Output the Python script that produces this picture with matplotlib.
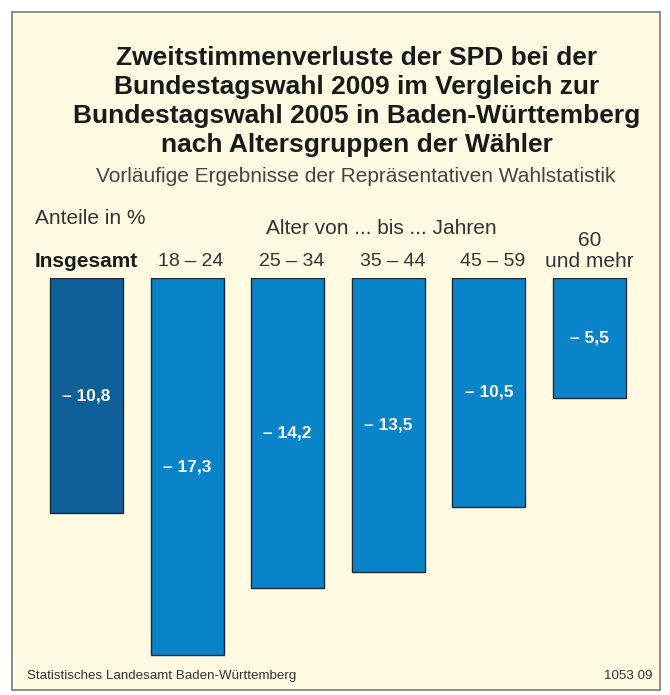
import matplotlib
matplotlib.use("Agg")
import matplotlib.pyplot as plt
from matplotlib.patches import Rectangle

categories = ["Insgesamt", "18 – 24", "25 – 34", "35 – 44", "45 – 59", "60\nund mehr"]
values = [-10.8, -17.3, -14.2, -13.5, -10.5, -5.5]
value_labels = ["– 10,8", "– 17,3", "– 14,2", "– 13,5", "– 10,5", "– 5,5"]
title_lines = ["Zweitstimmenverluste der SPD bei der",
               "Bundestagswahl 2009 im Vergleich zur",
               "Bundestagswahl 2005 in Baden-Württemberg",
               "nach Altersgruppen der Wähler"]

W, H = 670, 695
BG = "#fffbe3"
fig = plt.figure(figsize=(W / 100, H / 100), dpi=100)
fig.patch.set_facecolor("white")

def fx(px):
    return px / W

def fy(py):
    return 1 - py / H

# frame
fig.patches.append(Rectangle((fx(12), fy(690)), fx(660) - fx(12), fy(12) - fy(690),
                             transform=fig.transFigure, facecolor=BG,
                             edgecolor="#7a7a7a", linewidth=1.2, zorder=-5))

font = ["Liberation Sans", "DejaVu Sans"]

for i, line in enumerate(title_lines):
    fig.text(fx(357), fy(58 + i * 29), line, ha="center", va="center",
             fontsize=19, fontweight="bold", family=font, color="#1a1a1a")

fig.text(fx(356), fy(177), "Vorläufige Ergebnisse der Repräsentativen Wahlstatistik",
         ha="center", va="center", fontsize=15, family=font, color="#444444")

fig.text(fx(35), fy(218), "Anteile in %", ha="left", va="center",
         fontsize=15, family=font, color="#333333")
fig.text(fx(381), fy(228), "Alter von ... bis ... Jahren", ha="center", va="center",
         fontsize=15, family=font, color="#333333")

# axes
left_px, right_px = 36.25, 639.75
top_px = 278
ymin = -18
bottom_px = top_px + (-ymin) * 21.8
ax = fig.add_axes([fx(left_px), fy(bottom_px), fx(right_px) - fx(left_px), fy(top_px) - fy(bottom_px)])
ax.set_xlim(-0.5, 5.5)
ax.set_ylim(ymin, 0)
ax.axis("off")
ax.patch.set_alpha(0)

colors = ["#0f5f98"] + ["#0a84c8"] * 5
x = list(range(len(values)))
bars = ax.bar(x, values, width=0.726, color=colors, edgecolor="#1d2a33", linewidth=1.0, align="center")

for xi, v, lab in zip(x, values, value_labels):
    ax.text(xi, v / 2, lab, ha="center", va="center", color="white",
            fontsize=12.5, fontweight="bold", family=font)

# category labels
label_y = 262
for xi, cat in zip(x, categories):
    px = left_px + (xi + 0.5) * (right_px - left_px) / 6
    if xi == 0:
        fig.text(fx(35), fy(label_y), cat, ha="left", va="center", fontsize=15,
                 fontweight="bold", family=font, color="#1a1a1a")
    elif "\n" in cat:
        a, b = cat.split("\n")
        fig.text(fx(px), fy(241), a, ha="center", va="center", fontsize=15,
                 family=font, color="#333333")
        fig.text(fx(px), fy(label_y), b, ha="center", va="center", fontsize=15,
                 family=font, color="#333333")
    else:
        fig.text(fx(px + 4), fy(label_y), cat, ha="center", va="center", fontsize=14,
                 family=font, color="#333333")

fig.text(fx(27), fy(676), "Statistisches Landesamt Baden-Württemberg", ha="left", va="center",
         fontsize=9.6, family=font, color="#333333")
fig.text(fx(652), fy(676), "1053 09", ha="right", va="center",
         fontsize=9.6, family=font, color="#333333")

fig.savefig("out.png", dpi=100, facecolor=fig.get_facecolor())
